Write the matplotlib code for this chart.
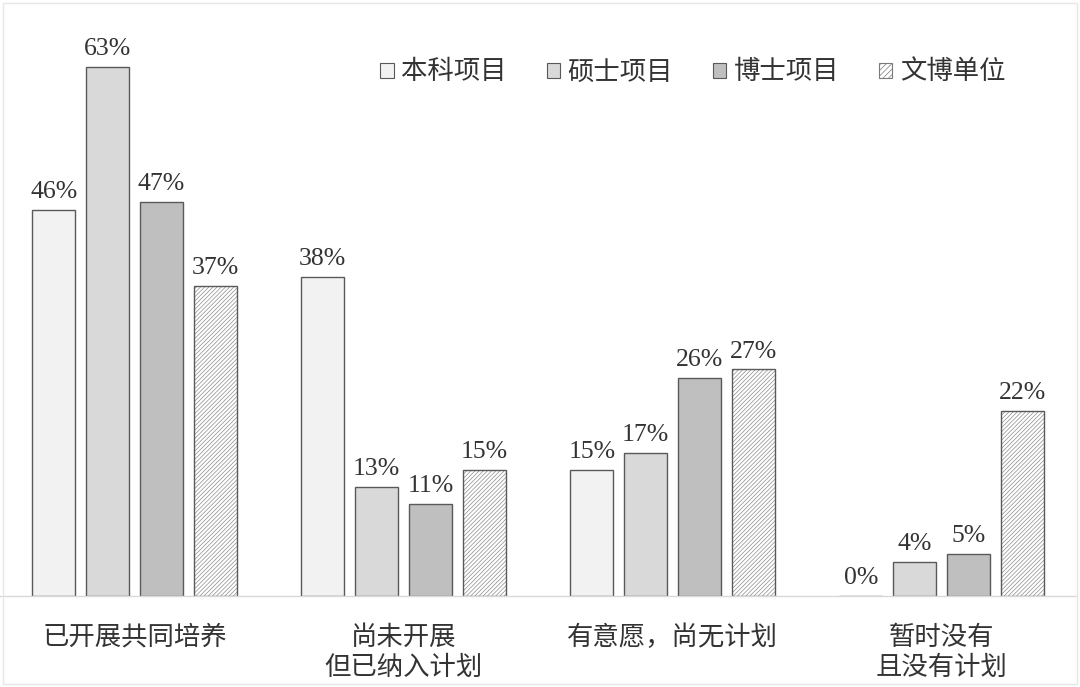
import matplotlib
matplotlib.use('Agg')
import matplotlib.pyplot as plt
from matplotlib.patches import Patch, Rectangle
import numpy as np

plt.rcParams['font.family'] = ['Liberation Serif', 'Noto Sans CJK SC']
plt.rcParams['hatch.linewidth'] = 0.5

categories = ['已开展共同培养', '尚未开展\n但已纳入计划', '有意愿，尚无计划', '暂时没有\n且没有计划']
series_names = ['本科项目', '硕士项目', '博士项目', '文博单位']
benke = [46, 38, 15, 0]
shuoshi = [63, 13, 17, 4]
boshi = [47, 11, 26, 5]
wenbo = [37, 15, 27, 22]
values = [benke, shuoshi, boshi, wenbo]

fills = ['#f2f2f2', '#d9d9d9', '#bfbfbf', 'white']
hatches = [None, None, None, '////////']
edge = '#595959'
txt = '#333333'
cjk = ['Noto Sans CJK SC', 'DejaVu Sans']

fig = plt.figure(figsize=(10.8, 6.87), dpi=100)
ax = fig.add_axes([0, 91 / 687, 1076 / 1080, 591.5 / 687])

x = np.arange(len(categories))
step = 0.2
width = 0.16
handles = []
for i, vals in enumerate(values):
    pos = x + (i - 1.5) * step
    if hatches[i]:
        # hatch drawn in lighter gray, outline on top
        ax.bar(pos, vals, width, color='white', edgecolor='#8c8c8c', hatch=hatches[i], linewidth=0)
        bars = ax.bar(pos, vals, width, fill=False, edgecolor=edge, linewidth=1)
        handles.append(Patch(facecolor='white', edgecolor='#7a7a7a', hatch='//////', linewidth=0.8))
    else:
        bars = ax.bar(pos, vals, width, color=fills[i], edgecolor=edge, linewidth=1)
        handles.append(Patch(facecolor=fills[i], edgecolor=edge, linewidth=0.8))
    for b, v in zip(bars, vals):
        ax.annotate(f'{v}%', (b.get_x() + b.get_width() / 2, v), xytext=(0, 5),
                    textcoords='offset points', ha='center', va='bottom',
                    fontsize=18.5, color=txt)

ax.set_xlim(-0.5, 3.5)
ax.set_ylim(0, 70.5)
ax.set_xticks(x)
ax.set_xticklabels(categories, fontsize=19, color=txt, family=cjk, linespacing=1.15)
ax.tick_params(axis='x', length=0, pad=20)
ax.set_yticks([])
for s in ['top', 'left', 'right']:
    ax.spines[s].set_visible(False)
ax.spines['bottom'].set_color('#d9d9d9')
ax.spines['bottom'].set_linewidth(1)

leg = ax.legend(handles, series_names, ncol=4, loc='center', bbox_to_anchor=(0.644, 0.886),
                frameon=False, handlelength=0.5, handleheight=0.5, handletextpad=0.3,
                columnspacing=1.5, prop={'family': cjk, 'size': 19})
for t in leg.get_texts():
    t.set_color(txt)

fig.patches.append(Rectangle((3 / 1080, 3 / 687), 1 - 6 / 1080, 1 - 6 / 687,
                             transform=fig.transFigure, fill=False,
                             edgecolor='#e6e6e6', linewidth=1))

fig.savefig('out.png', dpi=100)
